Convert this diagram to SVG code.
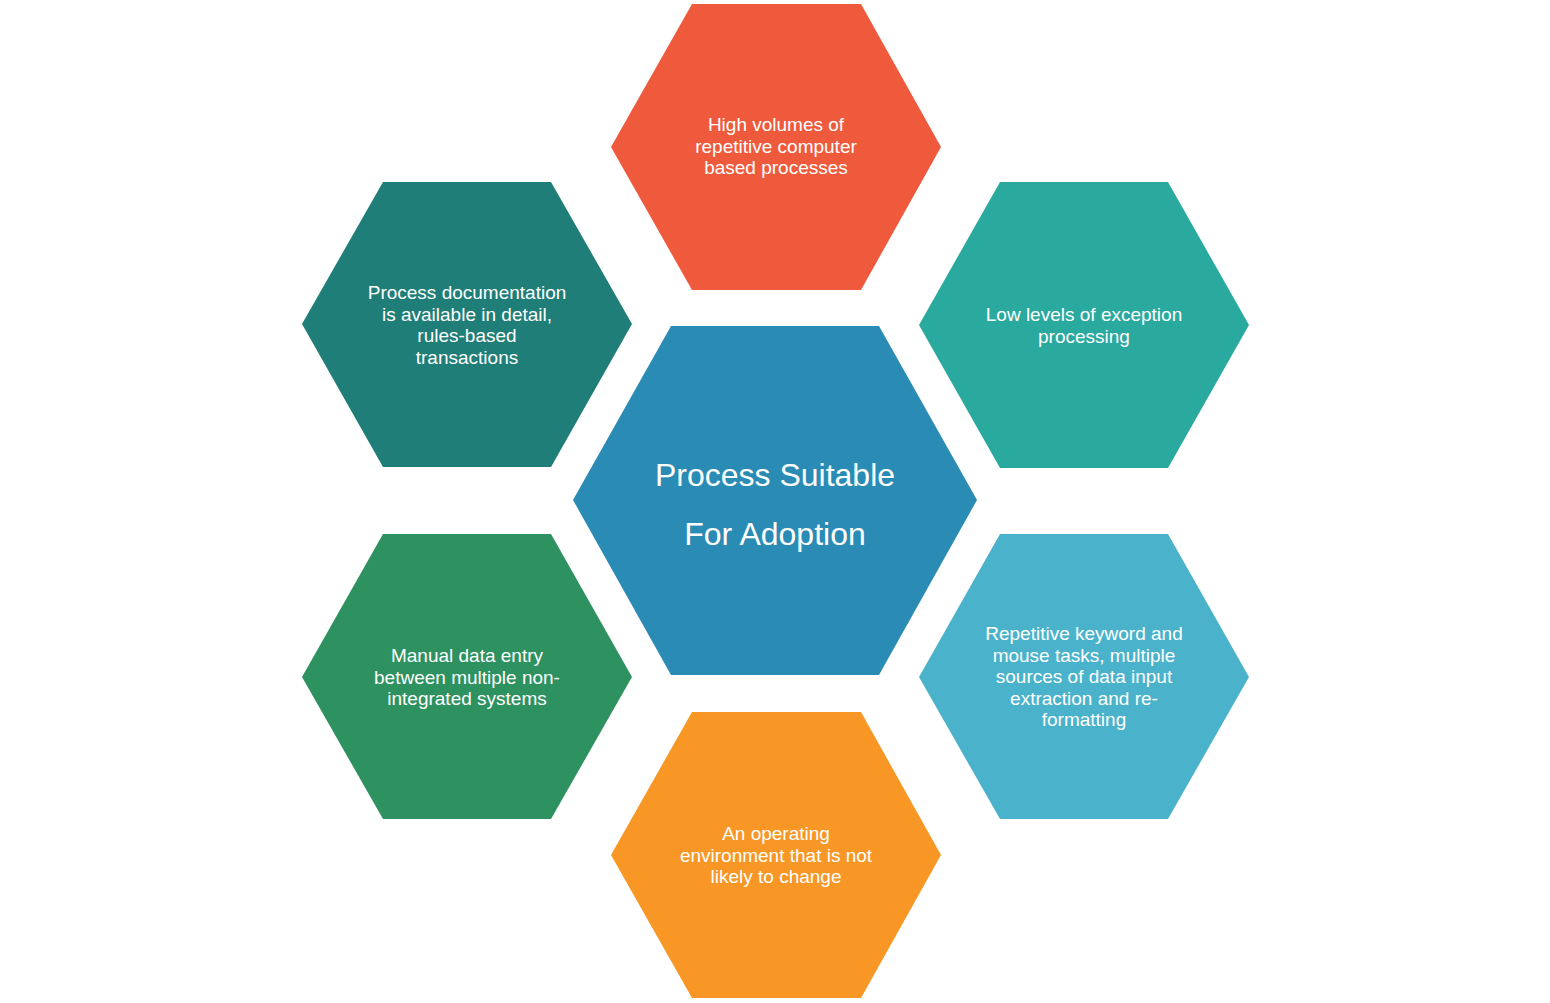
<svg xmlns="http://www.w3.org/2000/svg" width="1550" height="1003" viewBox="0 0 1550 1003">
<style>
text{font-family:"Liberation Sans",Arial,sans-serif;fill:#fff;text-anchor:middle;font-size:19px}
.c{font-size:32px}
</style>
<rect width="1550" height="1003" fill="#fff"/>
<g id="connectors"/>
<g id="top"><polygon points="611,147 692,4 861,4 941,147 861,290 692,290" fill="#EF5A3C"/>
<text x="776" y="131">High volumes of</text><text x="776" y="153">repetitive computer</text><text x="776" y="174">based processes</text></g>
<g id="topright"><polygon points="919,325 1000,182 1168,182 1249,325 1168,468 1000,468" fill="#2AA99F"/>
<text x="1084" y="321">Low levels of exception</text><text x="1084" y="343">processing</text></g>
<g id="topleft"><polygon points="302,324 383,182 551,182 632,324 551,467 383,467" fill="#1F7E78"/>
<text x="467" y="299">Process documentation</text><text x="467" y="321">is available in detail,</text><text x="467" y="342">rules-based</text><text x="467" y="364">transactions</text></g>
<g id="center"><polygon points="573,500 671,326 879,326 977,500 879,675 671,675" fill="#2A8BB5"/>
<text class="c" x="775" y="486">Process Suitable</text><text class="c" x="775" y="545">For Adoption</text></g>
<g id="bottomleft"><polygon points="302,677 383,534 551,534 632,677 551,819 383,819" fill="#2E9160"/>
<text x="467" y="662">Manual data entry</text><text x="467" y="684">between multiple non-</text><text x="467" y="705">integrated systems</text></g>
<g id="bottomright"><polygon points="919,677 1000,534 1168,534 1249,677 1168,819 1000,819" fill="#4AB3CB"/>
<text x="1084" y="640">Repetitive keyword and</text><text x="1084" y="662">mouse tasks, multiple</text><text x="1084" y="683">sources of data input</text><text x="1084" y="705">extraction and re-</text><text x="1084" y="726">formatting</text></g>
<g id="bottom"><polygon points="611,855 692,712 861,712 941,855 861,998 692,998" fill="#F89726"/>
<text x="776" y="840">An operating</text><text x="776" y="862">environment that is not</text><text x="776" y="883">likely to change</text></g>
</svg>
